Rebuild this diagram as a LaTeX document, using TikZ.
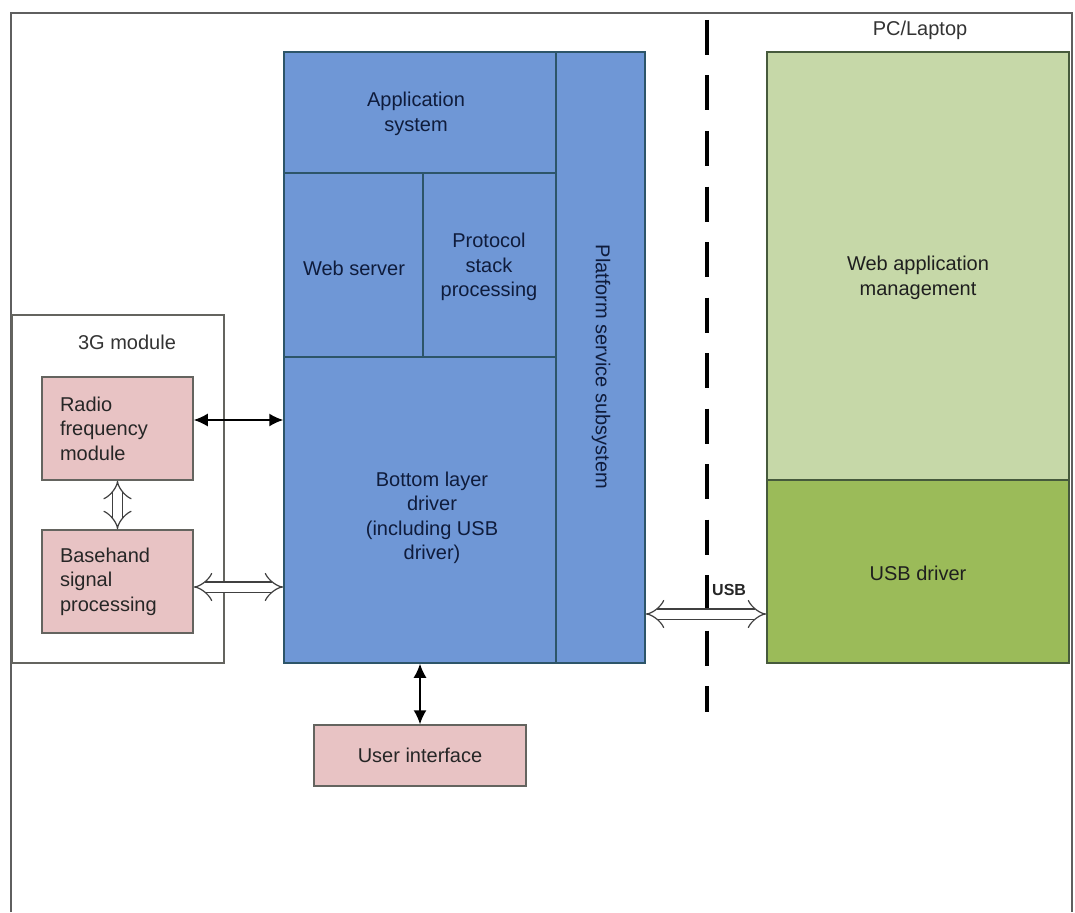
\documentclass[tikz,border=0pt]{standalone}
\usepackage{fontspec}
\setmainfont{Liberation Sans}
\usetikzlibrary{arrows.meta}
\definecolor{bluefill}{RGB}{111,151,214}
\definecolor{blueline}{RGB}{45,85,105}
\definecolor{bluetext}{RGB}{15,28,60}
\definecolor{lgreen}{RGB}{198,216,168}
\definecolor{dgreen}{RGB}{155,187,89}
\definecolor{greenline}{RGB}{70,90,60}
\definecolor{pinkfill}{RGB}{232,195,196}
\definecolor{pinkline}{RGB}{100,100,95}
\definecolor{frame}{RGB}{95,95,95}
\tikzset{
  box/.style={draw, line width=1.5pt, inner sep=0pt, align=center, font=\fontsize{20}{24.5}\selectfont},
  bluebox/.style={box, fill=bluefill, draw=blueline, text=bluetext},
  lgbox/.style={box, fill=lgreen, draw=greenline, text=black!88},
  dgbox/.style={box, fill=dgreen, draw=greenline, text=black!88},
  pinkbox/.style={box, fill=pinkfill, draw=pinkline, text=black!85},
  leftpink/.style={pinkbox, align=left, text width=115pt, inner xsep=18pt},
  modbox/.style={draw=pinkline, line width=1.5pt, fill=white, inner sep=0pt},
  plainlbl/.style={font=\fontsize{20}{24.5}\selectfont, text=black!80},
  bluelbl/.style={text=bluetext, align=center, font=\fontsize{20}{24.5}\selectfont},
  greenlbl/.style={text=black!88, align=center, font=\fontsize{20}{24.5}\selectfont},
  solidarr/.style={line width=1.6pt, {Latex[length=14pt,width=13pt]}-{Latex[length=14pt,width=13pt]}},
  hollowarr/.style={double=white, draw=black!75, line width=1.2pt, double distance=9pt, {Implies}-{Implies}},
}
\begin{document}
\begin{tikzpicture}[x=1pt,y=-1pt]
\useasboundingbox (0,0) rectangle (1075,912);
\fill[white] (0,0) rectangle (1075,912);
% outer frame (bottom edge cut off)
\draw[frame, line width=2pt] (11,912) -- (11,13) -- (1072,13) -- (1072,912);

% 3G module
\node[modbox, minimum width=212pt, minimum height=348pt] (mod) at (118,489) {};
\node[plainlbl] (modlbl) at (127,342) {3G module};
\node[leftpink, minimum width=151pt, minimum height=103pt] (radio) at (117.5,428.5) {Radio\\frequency\\module};
\node[leftpink, minimum width=151pt, minimum height=103pt] (base) at (117.5,581.5) {Basehand\\signal\\processing};

% blue block
\node[bluebox, minimum width=272pt, minimum height=121pt] (app) at (420,112.5) {};
\node[bluelbl] (applbl) at (416,114) {Application\\system};
\node[bluebox, minimum width=139pt, minimum height=184pt] (web) at (353.5,265) {};
\node[bluelbl] (weblbl) at (354,268) {Web server};
\node[bluebox, minimum width=133pt, minimum height=184pt] (proto) at (489.5,265) {};
\node[bluelbl] (protolbl) at (489,267) {Protocol\\stack\\processing};
\node[bluebox, minimum width=272pt, minimum height=306pt] (bottom) at (420,510) {};
\node[bluelbl] (bottomlbl) at (432,518) {Bottom layer\\driver\\(including USB\\driver)};
\node[bluebox, minimum width=89pt, minimum height=611pt] (plat) at (600.5,357.5) {};
\node[bluelbl, rotate=-90] (platlbl) at (601,367) {Platform service subsystem};

% PC / laptop
\node[plainlbl] (pc) at (920,30) {PC/Laptop};
\node[lgbox, minimum width=302pt, minimum height=428pt] (webapp) at (918,266) {};
\node[greenlbl] (webapplbl) at (918,278) {Web application\\management};
\node[dgbox, minimum width=302pt, minimum height=183pt] (usbd) at (918,571.5) {};
\node[greenlbl] (usbdlbl) at (918,573) {USB driver};

% user interface
\node[pinkbox, minimum width=212pt, minimum height=61pt] (ui) at (420,755.5) {User interface};

% dashed separator
\coordinate (dtop) at (707,20);
\coordinate (dbot) at (707,712);
\draw[black, line width=4pt, dash pattern=on 35pt off 20.5pt] (dtop) -- (dbot);

% connectors
\draw[solidarr] (radio.east |- 0,420) -- (bottom.west |- 0,420);
\draw[solidarr] (bottom.south) -- (ui.north);
\draw[hollowarr] (radio.south) -- (base.north);
\draw[hollowarr] (base.east |- 0,587) -- (bottom.west |- 0,587);
\draw[hollowarr] (plat.east |- 0,614) -- (usbd.west |- 0,614);
\node[font=\bfseries\fontsize{16}{18}\selectfont, text=black!85, anchor=south west, inner sep=0pt] (usblbl) at (712,596) {USB};
\end{tikzpicture}
\end{document}
